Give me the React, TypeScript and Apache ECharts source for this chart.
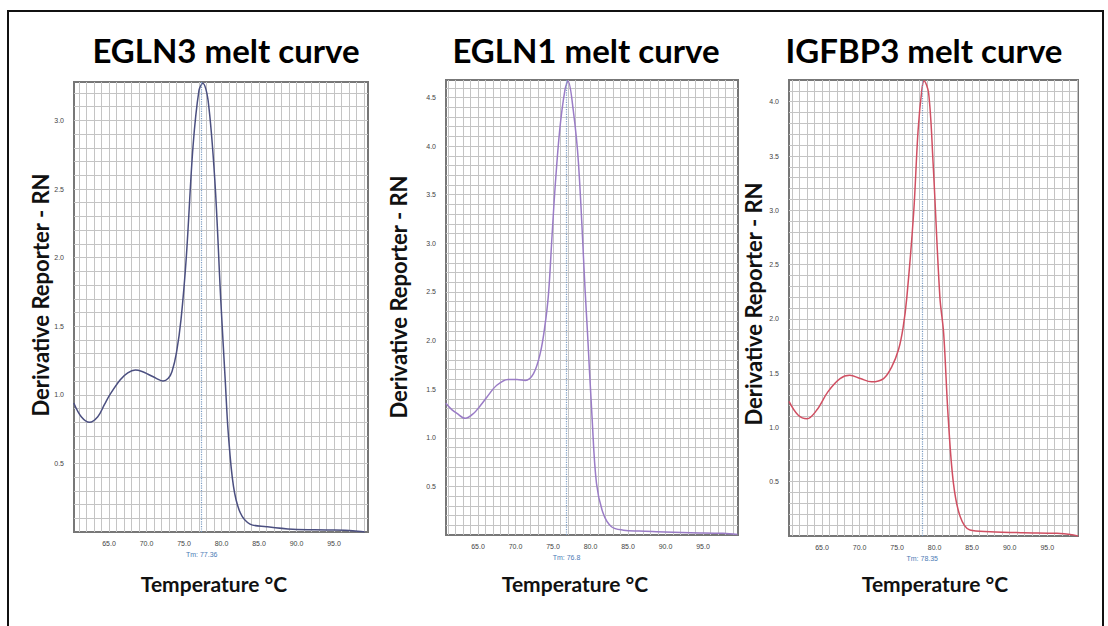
import React, { useEffect, useRef } from "react";
import * as echarts from "echarts";

// ---- data ----
const titles = ["EGLN3 melt curve", "EGLN1 melt curve", "IGFBP3 melt curve"];
const tmValues = [77.36, 76.8, 78.35];
const tmLabels = ["Tm: 77.36", "Tm: 76.8", "Tm: 78.35"];
const lineColors = ["#4b4f80", "#9a7cc6", "#d04f62"];

const egln3Temp = [60.3, 61.3, 62.4, 63.5, 64.4, 65.1, 66.5, 67.5, 68.5, 69.4, 70.2, 71.3, 72.2, 72.9, 73.4, 74.0, 74.6, 75.3, 76.2, 77.0, 77.5, 78.2, 79.1, 79.9, 80.5, 80.9, 81.6, 82.5, 83.8, 86.0, 89.5, 94.0, 97.5, 99.1];
const egln3Value = [0.94, 0.84, 0.8, 0.84, 0.93, 1.0, 1.11, 1.16, 1.18, 1.17, 1.15, 1.12, 1.1, 1.12, 1.17, 1.31, 1.55, 2.0, 2.81, 3.22, 3.27, 3.15, 2.57, 1.69, 1.1, 0.72, 0.33, 0.14, 0.058, 0.039, 0.02, 0.015, 0.01, 0.0];

const egln1Temp = [60.7, 61.5, 62.2, 63.3, 64.4, 65.3, 66.2, 67.5, 69.0, 70.2, 71.3, 72.4, 73.3, 73.9, 74.4, 74.85, 75.3, 75.9, 76.6, 77.0, 77.7, 78.4, 79.3, 79.6, 80.2, 80.8, 81.7, 82.8, 84.4, 86.5, 88.8, 93.3, 97.7, 99.6];
const egln1Value = [1.355, 1.29, 1.25, 1.2, 1.25, 1.33, 1.42, 1.54, 1.6, 1.6, 1.59, 1.66, 1.87, 2.14, 2.48, 3.05, 3.6, 4.17, 4.58, 4.67, 4.37, 3.82, 2.49, 2.08, 1.22, 0.53, 0.22, 0.085, 0.05, 0.04, 0.034, 0.024, 0.017, 0.005];

const igfbp3Temp = [60.6, 61.8, 63.0, 64.3, 65.8, 67.4, 68.7, 70.1, 71.6, 73.2, 74.3, 75.2, 75.8, 76.3, 77.2, 77.8, 78.3, 78.6, 79.2, 79.8, 80.7, 81.2, 81.8, 82.5, 83.4, 84.7, 87.4, 91.8, 96.3, 98.5, 99.1];
const igfbp3Value = [1.24, 1.115, 1.08, 1.16, 1.33, 1.45, 1.48, 1.45, 1.42, 1.45, 1.56, 1.72, 1.92, 2.2, 2.97, 3.74, 4.11, 4.19, 4.08, 3.43, 2.2, 1.87, 1.1, 0.49, 0.18, 0.055, 0.04, 0.03, 0.025, 0.01, 0.0];

const xLabelValues = [65, 70, 75, 80, 85, 90, 95];
const yLabelValues = [
  [0.5, 1.0, 1.5, 2.0, 2.5, 3.0],
  [0.5, 1.0, 1.5, 2.0, 2.5, 3.0, 3.5, 4.0, 4.5],
  [0.5, 1.0, 1.5, 2.0, 2.5, 3.0, 3.5, 4.0],
];
const xRanges = [[60.33, 99.53], [60.73, 99.67], [60.6, 99.1]];
const yMaxes = [3.28, 4.68, 4.2];

const temps = [egln3Temp, egln1Temp, igfbp3Temp];
const values = [egln3Value, egln1Value, igfbp3Value];

// ---- layout ----
const grids = [
  { left: 74, top: 82, width: 294, height: 450 },
  { left: 446, top: 80, width: 292, height: 455 },
  { left: 789, top: 80, width: 289, height: 456 },
];
const titleCenters = [226, 586, 924];
const xLabelCenters = [214, 575, 935];
const yLabelPos = [[40, 295], [398, 297], [753, 304]];

export default function App() {
  const ref = useRef<HTMLDivElement>(null);
  useEffect(() => {
    if (!ref.current) return;
    const chart = echarts.init(ref.current, null, { renderer: "svg" });

    const xGridVals: number[] = [];
    for (let t = 61; t <= 99; t++) xGridVals.push(t);

    const xAxes: any[] = [];
    const yAxes: any[] = [];
    const series: any[] = [];
    const graphics: any[] = [];

    for (let i = 0; i < 3; i++) {
      const yGridVals: number[] = [];
      for (let k = 1; k / 10 < yMaxes[i]; k++) yGridVals.push(k / 10);
      xAxes.push({
        type: "value",
        gridIndex: i,
        min: xRanges[i][0],
        max: xRanges[i][1],
        axisLine: { show: false },
        axisTick: { show: false, customValues: xGridVals },
        splitLine: { show: true, lineStyle: { color: "#c4c4c4", width: 1 } },
        axisLabel: {
          customValues: xLabelValues,
          formatter: (v: number) => v.toFixed(1),
          fontSize: 7,
          color: "#444",
          fontFamily: "Liberation Sans",
          margin: 8,
        },
      });
      yAxes.push({
        type: "value",
        gridIndex: i,
        min: 0,
        max: yMaxes[i],
        axisLine: { show: false },
        axisTick: { show: false, customValues: yGridVals },
        splitLine: { show: true, lineStyle: { color: "#c4c4c4", width: 1 } },
        axisLabel: {
          customValues: yLabelValues[i],
          formatter: (v: number) => v.toFixed(1),
          fontSize: 7,
          color: "#444",
          fontFamily: "Liberation Sans",
          margin: 10,
        },
      });
      series.push({
        type: "line",
        xAxisIndex: i,
        yAxisIndex: i,
        data: temps[i].map((t, j) => [t, values[i][j]]),
        smooth: 0.35,
        symbol: "none",
        lineStyle: { color: lineColors[i], width: 1.5 },
        z: 3,
        markLine: {
          silent: true,
          symbol: "none",
          lineStyle: { color: "#7c9dc4", type: "dotted", width: 1.2 },
          label: {
            show: true,
            position: "start",
            distance: 19,
            formatter: tmLabels[i],
            fontSize: 7,
            color: "#4d7cb5",
            fontFamily: "Liberation Sans",
          },
          data: [{ xAxis: tmValues[i] }],
        },
      });
      graphics.push({
        type: "text",
        x: titleCenters[i],
        y: 50,
        style: {
          text: titles[i],
          font: "bold 33px Lato",
          fill: "#000",
          textAlign: "center",
          textVerticalAlign: "middle",
        },
      });
      graphics.push({
        type: "text",
        x: xLabelCenters[i],
        y: 583,
        style: {
          text: "Temperature °C",
          font: "bold 21px Lato",
          fill: "#111",
          textAlign: "center",
          textVerticalAlign: "middle",
        },
      });
      graphics.push({
        type: "text",
        x: yLabelPos[i][0],
        y: yLabelPos[i][1],
        rotation: Math.PI / 2,
        style: {
          text: "Derivative Reporter - RN",
          font: "bold 22px Lato",
          fill: "#111",
          textAlign: "center",
          textVerticalAlign: "middle",
        },
      });
    }

    graphics.push({
      type: "rect",
      shape: { x: 8, y: 11, width: 1095, height: 640 },
      style: { fill: "none", stroke: "#111", lineWidth: 2 },
      silent: true,
    });

    chart.setOption({
      animation: false,
      backgroundColor: "#fff",
      grid: grids.map((g) => ({
        ...g,
        show: true,
        borderColor: "#777",
        borderWidth: 2,
        backgroundColor: "transparent",
        containLabel: false,
      })),
      xAxis: xAxes,
      yAxis: yAxes,
      series,
      graphic: graphics,
    });
    return () => chart.dispose();
  }, []);
  return (
    <div
      ref={ref}
      style={{ position: "fixed", left: 0, top: 0, width: 1108, height: 626 }}
    />
  );
}
